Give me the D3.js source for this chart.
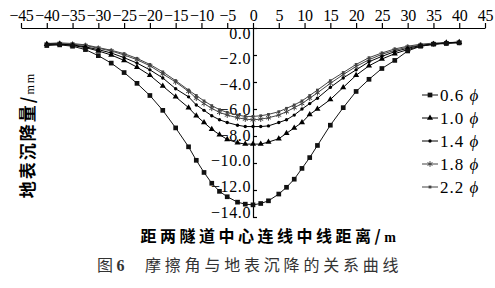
<!DOCTYPE html>
<html>
<head>
<meta charset="utf-8">
<script src="https://cdn.jsdelivr.net/npm/d3@7"></script>
<style>
body { margin: 0; background: #fff; }
svg { display: block; }
.axis text { font-family: "Liberation Serif", serif; font-size: 16px; fill: #000; }
.axis path, .axis line { stroke: #000; stroke-width: 1.2; }
</style>
</head>
<body>
<div id="chart"></div>
<script>
// distance from centre line of the two tunnels (m)
const distance = [-40,-37.5,-35,-32.5,-30,-27.5,-25,-22.5,-20,-17.5,-15,-12.5,-11,-9.5,-8,-6.5,-5,-3,-1.5,0,
  1.5,3,5,6.5,8,9.5,11,12.5,15,17.5,20,22.5,25,27.5,30,32.5,35,37.5,40];

// surface settlement (mm) for each friction angle
const s06 = [-1.3,-1.25,-1.35,-1.6,-2.05,-2.6,-3.3,-4.1,-5.0,-6.1,-7.4,-8.8,-9.8,-10.7,-11.5,-12.1,-12.5,-12.9,-13.05,-13.1,
  -13.0,-12.8,-12.3,-11.8,-11.2,-10.4,-9.6,-8.7,-7.2,-5.9,-4.7,-3.8,-3.0,-2.4,-1.7,-1.35,-1.2,-1.15,-1.1];
const s10 = [-1.2,-1.2,-1.3,-1.45,-1.7,-2.0,-2.4,-2.9,-3.5,-4.3,-5.1,-5.9,-6.5,-7.0,-7.5,-7.9,-8.25,-8.5,-8.6,-8.6,
  -8.6,-8.45,-8.2,-7.8,-7.4,-7.0,-6.4,-6.0,-5.3,-4.4,-3.5,-2.8,-2.3,-1.9,-1.6,-1.35,-1.2,-1.1,-1.05];
const s14 = [-1.2,-1.2,-1.25,-1.4,-1.6,-1.85,-2.2,-2.6,-3.1,-3.7,-4.5,-5.1,-5.7,-6.1,-6.5,-6.8,-7.0,-7.2,-7.3,-7.3,
  -7.3,-7.25,-7.0,-6.8,-6.45,-6.0,-5.6,-5.2,-4.4,-3.7,-3.1,-2.5,-2.1,-1.75,-1.5,-1.3,-1.2,-1.1,-1.05];
const s18 = [-1.2,-1.15,-1.2,-1.3,-1.5,-1.7,-2.0,-2.35,-2.8,-3.4,-4.0,-4.7,-5.2,-5.6,-5.95,-6.25,-6.45,-6.65,-6.75,-6.8,
  -6.75,-6.65,-6.45,-6.2,-5.9,-5.6,-5.2,-4.8,-4.1,-3.45,-2.85,-2.35,-1.95,-1.65,-1.42,-1.27,-1.17,-1.1,-1.07];
const s22 = [-1.15,-1.1,-1.15,-1.25,-1.45,-1.65,-1.9,-2.25,-2.7,-3.25,-3.9,-4.6,-5.0,-5.4,-5.75,-6.05,-6.25,-6.45,-6.55,-6.55,
  -6.5,-6.4,-6.2,-5.95,-5.7,-5.4,-5.0,-4.6,-3.9,-3.3,-2.7,-2.2,-1.85,-1.55,-1.35,-1.2,-1.12,-1.08,-1.05];

const seriesNames = ["0.6", "1.0", "1.4", "1.8", "2.2"];
const xTicks = d3.range(-45, 46, 5);
const yTicks = [0, -2, -4, -6, -8, -10, -12, -14];

const width = 495, height = 288;

const svg = d3.select("#chart").append("svg")
  .attr("width", width)
  .attr("height", height);

const x = d3.scaleLinear().domain([-45, 45]).range([21, 485]);
const y = d3.scaleLinear().domain([0, -14]).range([28, 217]);
// the printed labels sit on a slightly tighter spacing than the ticks
const yLabel = d3.scaleLinear().domain([0, -14]).range([33, 212]);

// x axis on top
svg.append("g")
  .attr("class", "axis")
  .attr("transform", "translate(0,28)")
  .call(d3.axisTop(x).tickValues(xTicks).tickSize(5).tickSizeOuter(0).tickPadding(2)
    .tickFormat(d => d3.format("d")(d)))
  .call(g => g.selectAll("text").attr("letter-spacing", "-0.3px"));

// y axis at x = 0, ticks pointing right
svg.append("g")
  .attr("class", "axis")
  .attr("transform", `translate(${x(0)},0)`)
  .call(d3.axisLeft(y).tickValues(yTicks).tickSize(-4).tickSizeOuter(0).tickFormat(""));

// y tick labels on the left of the axis
svg.append("g")
  .attr("class", "axis")
  .attr("transform", `translate(${x(0)},0)`)
  .call(d3.axisLeft(yLabel).tickValues(yTicks).tickSize(0).tickPadding(2)
    .tickFormat(d3.format(".1f")))
  .call(g => g.select(".domain").remove())
  .call(g => g.selectAll("text").attr("letter-spacing", "0.6px"));

const line = d3.line()
  .x((d, i) => x(distance[i]))
  .y(d => y(d));

const series = [
  {name: seriesNames[0], values: s06, symbol: d3.symbolSquare, size: 22, color: "#111", fill: true},
  {name: seriesNames[1], values: s10, symbol: d3.symbolTriangle, size: 16, color: "#000", fill: true},
  {name: seriesNames[2], values: s14, symbol: d3.symbolCircle, size: 9, color: "#000", fill: true},
  {name: seriesNames[3], values: s18, symbol: d3.symbolAsterisk, size: 22, color: "#444", fill: false},
  {name: seriesNames[4], values: s22, symbol: d3.symbolSquare, size: 8, color: "#444", fill: true}
];

series.slice().reverse().forEach(s => {
  const g = svg.append("g");
  g.append("path")
    .attr("d", line(s.values))
    .attr("fill", "none")
    .attr("stroke", s.color)
    .attr("stroke-width", 1);
  g.selectAll("path.m")
    .data(s.values)
    .join("path")
    .attr("class", "m")
    .attr("transform", (d, i) => `translate(${x(distance[i])},${y(d)})`)
    .attr("d", d3.symbol().type(s.symbol).size(s.size))
    .attr("fill", s.fill ? s.color : "none")
    .attr("stroke", s.fill ? "none" : s.color)
    .attr("stroke-width", 1);
});

// legend
const legend = svg.append("g");
series.forEach((s, i) => {
  const ly = 95 + i * 23;
  legend.append("line")
    .attr("x1", 422).attr("x2", 438).attr("y1", ly).attr("y2", ly)
    .attr("stroke", s.color).attr("stroke-width", 1);
  legend.append("path")
    .attr("transform", `translate(430,${ly})`)
    .attr("d", d3.symbol().type(s.symbol).size(s.size))
    .attr("fill", s.fill ? s.color : "none")
    .attr("stroke", s.fill ? "none" : s.color);
  const t = legend.append("text")
    .attr("x", 440).attr("y", ly + 6)
    .attr("font-family", "Liberation Serif, serif")
    .attr("font-size", 17)
    .attr("letter-spacing", "1px");
  t.append("tspan").text(s.name + " ");
  t.append("tspan").attr("font-style", "italic").text("ϕ");
});

// axis titles
svg.append("text")
  .attr("transform", "translate(34,135) rotate(-90)")
  .attr("text-anchor", "middle")
  .attr("font-family", "Noto Sans CJK SC, sans-serif")
  .attr("font-weight", "bold")
  .attr("font-size", 17)
  .attr("letter-spacing", "2px")
  .call(t => {
    t.append("tspan").text("地表沉降量/");
    t.append("tspan").attr("font-size", 12).attr("font-weight", "normal")
      .attr("font-family", "Liberation Serif, serif").text("mm");
  });

svg.append("text")
  .attr("x", 270).attr("y", 242)
  .attr("text-anchor", "middle")
  .attr("font-family", "Noto Sans CJK SC, sans-serif")
  .attr("font-weight", "bold")
  .attr("font-size", 16)
  .attr("letter-spacing", "3.5px")
  .call(t => {
    t.append("tspan").text("距两隧道中心连线中线距离/");
    t.append("tspan").attr("font-family", "Liberation Serif, serif").attr("font-size", 14).text("m");
  });

// figure caption
svg.append("text")
  .attr("x", 97).attr("y", 271)
  .attr("font-family", "Noto Sans CJK SC, sans-serif")
  .attr("font-size", 16)
  .attr("fill", "#333")
  .call(t => {
    t.append("tspan").text("图 ");
    t.append("tspan").attr("font-weight", "bold").attr("font-family", "Liberation Serif, serif").text("6");
    t.append("tspan").attr("x", 145).attr("letter-spacing", "3.8px").text("摩擦角与地表沉降的关系曲线");
  });
</script>
</body>
</html>
